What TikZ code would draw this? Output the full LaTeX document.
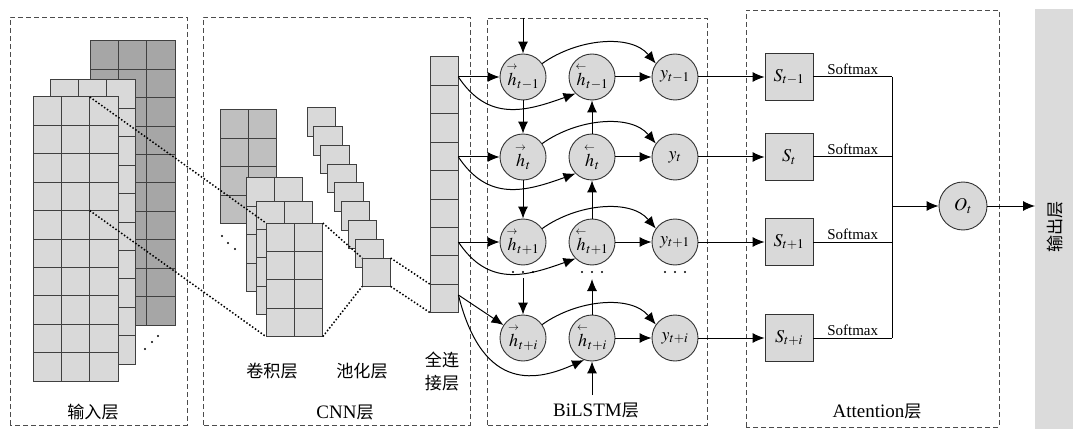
\documentclass[tikz,border=0pt]{standalone}
\usepackage{amsmath}
\usepackage{mathptmx}
\usepackage{fontspec}
\setmainfont{Liberation Serif}
\newfontfamily\cjk{Noto Sans CJK SC}[Scale=0.9]
\usepackage{tikz}
\usetikzlibrary{arrows.meta}

\newcommand{\fwd}[1]{\overset{\scriptscriptstyle\rightarrow}{#1}}
\newcommand{\bwd}[1]{\overset{\scriptscriptstyle\leftarrow}{#1}}
\newcommand{\gridcells}[5]{%
  \foreach \c in {1,...,#3}{%
    \foreach \r in {1,...,#4}{%
      \draw[cell, fill=#5] ({#1+(\c-1)*28.4},{#2-(\r-1)*28.4}) rectangle ++(28.4,-28.4);}}}

\begin{document}
\begin{tikzpicture}[
    x=1pt, y=1pt,
    cell/.style={draw=black!75, line width=1pt},
    frame/.style={draw=black!70, dash pattern=on 5pt off 3pt, line width=0.9pt},
    state/.style={circle, draw=black!80, fill=black!15, line width=0.9pt, minimum size=46pt, inner sep=0pt, font=\fontsize{18}{20}\selectfont},
    score/.style={rectangle, draw=black!80, fill=black!15, line width=0.9pt, minimum width=48pt, minimum height=47pt, inner sep=0pt, font=\fontsize{18}{20}\selectfont},
    layername/.style={inner sep=0pt, align=center, font=\fontsize{19}{23}\selectfont},
    softmax/.style={above, inner sep=2pt, font=\fontsize{15}{17}\selectfont},
    arrow/.style={-{Latex[length=12pt,width=10pt]}, line width=1pt},
    link/.style={dash pattern=on 1.5pt off 2pt, line width=1.5pt}
]
\useasboundingbox (0,0) rectangle (1073,429);

% layer frames
\draw[frame] (10,4) rectangle (187,412);
\draw[frame] (203,4) rectangle (470,412);
\draw[frame] (487,4) rectangle (707,411);
\draw[frame] (746,2) rectangle (999,419);
\fill[black!14] (1035,0) rectangle (1073,420);

% input layer
\gridcells{90}{388}{3}{10}{black!35}
\gridcells{50}{349}{3}{10}{black!15}
\gridcells{33}{332}{3}{10}{black!15}
\fill (145,80) circle (1.2); \fill (152,87) circle (1.2); \fill (158,93) circle (1.2);

% convolution, pooling, fully connected
\gridcells{220}{319}{2}{4}{black!25}
\gridcells{246}{251}{2}{4}{black!15}
\gridcells{256}{228}{2}{4}{black!15}
\gridcells{266}{206}{2}{4}{black!15}
\fill (222,193) circle (1.2); \fill (228,186) circle (1.2); \fill (235,180) circle (1.2);
\foreach \i in {0,...,8}{
  \gridcells{307+6.9*\i}{321-18.75*\i}{1}{1}{black!15}}
\gridcells{430}{372}{1}{9}{black!15}

\coordinate (in1) at (89.8,332);
\coordinate (in2) at (89.8,218.4);
\coordinate (cv1) at (266,206);
\coordinate (cv2) at (266,92.4);
\coordinate (cv3) at (322.8,206);
\coordinate (cv4) at (322.8,92.4);
\coordinate (pl1) at (362.2,171);
\coordinate (pl2) at (362.2,142.6);
\coordinate (pl3) at (390.6,171);
\coordinate (pl4) at (390.6,142.6);
\coordinate (fcA) at (430,144.8);
\coordinate (fcB) at (430,116.4);
\draw[link] (in1) -- (cv1);
\draw[link] (in2) -- (cv2);
\draw[link] (cv3) -- (pl1);
\draw[link] (cv4) -- (pl2);
\draw[link] (pl3) -- (fcA);
\draw[link] (pl4) -- (fcB);

\node[layername] (inname) at (93,17) {\cjk 输入层};
\node[layername] (convname) at (272,58) {\cjk 卷积层};
\node[layername] (poolname) at (362,58) {\cjk 池化层};
\node[layername] (fcname) at (442,58) {\cjk 全连\\\cjk 接层};
\node[layername] (cnnname) at (345,17) {CNN{\cjk 层}};

% BiLSTM layer
\node[state] (hf1) at (523,352) {$\fwd{h}_{t-1}$};
\node[state] (hb1) at (592,352) {$\bwd{h}_{t-1}$};
\node[state] (y1) at (675,352) {$y_{t-1}$};
\node[state] (hf2) at (523,272) {$\fwd{h}_{t}$};
\node[state] (hb2) at (592,272) {$\bwd{h}_{t}$};
\node[state] (y2) at (675,272) {$y_{t}$};
\node[state] (hf3) at (523,187) {$\fwd{h}_{t+1}$};
\node[state] (hb3) at (592,187) {$\bwd{h}_{t+1}$};
\node[state] (y3) at (675,187) {$y_{t+1}$};
\node[state] (hf4) at (523,91) {$\fwd{h}_{t+i}$};
\node[state] (hb4) at (592,91) {$\bwd{h}_{t+i}$};
\node[state] (y4) at (675,91) {$y_{t+i}$};
\foreach \cx in {523,592,675}
  \foreach \dx in {-10,0,10}
    \fill (\cx+\dx,157) circle (1.1);

\coordinate (fc1) at (458.4,352);
\coordinate (fc2) at (458.4,272);
\coordinate (fc3) at (458.4,187);
\coordinate (fc4) at (458.4,134);
\draw[arrow] (fc1) -- (hf1);
\draw[arrow] (fc2) -- (hf2);
\draw[arrow] (fc3) -- (hf3);
\draw[arrow] (fc4) -- (hf4);
\draw[arrow] (fc1) .. controls +(30,-45) and +(-50,-18) .. (hb1.225);
\draw[arrow] (fc2) .. controls +(30,-45) and +(-50,-18) .. (hb2.225);
\draw[arrow] (fc3) .. controls +(30,-45) and +(-50,-18) .. (hb3.225);
\draw[arrow] (fc4) .. controls +(25,-100) and +(-45,-20) .. (hb4.250);

\coordinate (top) at (523,411);
\coordinate (hfgap) at (523,151);
\coordinate (bottom) at (592,34);
\coordinate (hbgap) at (592,150);
\draw[arrow] (top) -- (hf1);
\draw[arrow] (hf1) -- (hf2);
\draw[arrow] (hf2) -- (hf3);
\draw[arrow] (hfgap) -- (hf4);
\draw[arrow] (bottom) -- (hb4);
\draw[arrow] (hb4) -- (hbgap);
\draw[arrow] (hb3) -- (hb2);
\draw[arrow] (hb2) -- (hb1);

\draw[arrow] (hf1.35) .. controls +(35,25) and +(-25,30) .. (y1.145);
\draw[arrow] (hf2.35) .. controls +(35,25) and +(-25,30) .. (y2.145);
\draw[arrow] (hf3.35) .. controls +(35,25) and +(-25,30) .. (y3.145);
\draw[arrow] (hf4.35) .. controls +(35,25) and +(-25,30) .. (y4.145);
\draw[arrow] (hb1) -- (y1);
\draw[arrow] (hb2) -- (y2);
\draw[arrow] (hb3) -- (y3);
\draw[arrow] (hb4) -- (y4);

\node[layername] (lstmname) at (596,19) {BiLSTM{\cjk 层}};

% attention layer
\node[score] (s1) at (789,352) {$S_{t-1}$};
\node[score] (s2) at (789,272) {$S_{t}$};
\node[score] (s3) at (789,187) {$S_{t+1}$};
\node[score] (s4) at (789,91) {$S_{t+i}$};
\node[state, minimum size=48pt] (ot) at (963,223) {$O_{t}$};
\draw[arrow] (y1) -- (s1);
\draw[arrow] (y2) -- (s2);
\draw[arrow] (y3) -- (s3);
\draw[arrow] (y4) -- (s4);

\coordinate (j1) at (892,352);
\coordinate (j2) at (892,272);
\coordinate (j3) at (892,187);
\coordinate (j4) at (892,91);
\coordinate (jn) at (892,223);
\coordinate (outin) at (1035,223);
\draw[line width=1pt] (s1) -- node[softmax] (sm1) {Softmax} (j1);
\draw[line width=1pt] (s2) -- node[softmax] (sm2) {Softmax} (j2);
\draw[line width=1pt] (s3) -- node[softmax] (sm3) {Softmax} (j3);
\draw[line width=1pt] (s4) -- node[softmax] (sm4) {Softmax} (j4);
\draw[line width=1pt] (j1) -- (j4);
\draw[arrow] (jn) -- (ot);
\draw[arrow] (ot) -- (outin);

\node[layername] (attname) at (877,18) {Attention{\cjk 层}};
\node[layername, rotate=90] (outname) at (1055,202) {\cjk 输出层};
\end{tikzpicture}
\end{document}
